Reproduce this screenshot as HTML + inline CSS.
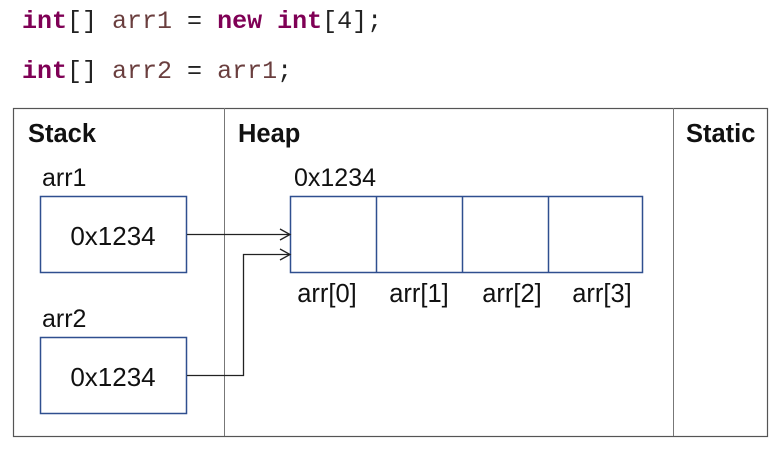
<!DOCTYPE html>
<html><head><style>
body{margin:0;width:782px;height:447px;background:#fff;overflow:hidden}
</style></head><body>
<svg width="782" height="447" xmlns="http://www.w3.org/2000/svg">
<g font-family="Liberation Mono, monospace" font-size="25">
<text x="22" y="28"><tspan fill="#7f0055" font-weight="bold">int</tspan><tspan fill="#222">[] </tspan><tspan fill="#6a3e3e">arr1</tspan><tspan fill="#222"> = </tspan><tspan fill="#7f0055" font-weight="bold">new</tspan><tspan fill="#222"> </tspan><tspan fill="#7f0055" font-weight="bold">int</tspan><tspan fill="#222">[4];</tspan></text>
<text x="22" y="78"><tspan fill="#7f0055" font-weight="bold">int</tspan><tspan fill="#222">[] </tspan><tspan fill="#6a3e3e">arr2</tspan><tspan fill="#222"> = </tspan><tspan fill="#6a3e3e">arr1</tspan><tspan fill="#222">;</tspan></text>
</g>
<rect x="13.5" y="108.5" width="754" height="328" fill="none" stroke="#555" stroke-width="1.2"/>
<line x1="224.5" y1="108" x2="224.5" y2="436" stroke="#777"/>
<line x1="673.5" y1="108" x2="673.5" y2="436" stroke="#777"/>
<g font-family="Liberation Sans, sans-serif" fill="#111">
<text x="28" y="142" font-size="25.5" font-weight="bold">Stack</text>
<text x="238" y="142" font-size="25.5" font-weight="bold">Heap</text>
<text x="686" y="142" font-size="25.5" font-weight="bold">Static</text>
<text x="42" y="186" font-size="25">arr1</text>
<text x="42" y="327" font-size="25">arr2</text>
<text x="294" y="186" font-size="25">0x1234</text>
<text x="113" y="245" font-size="26" text-anchor="middle">0x1234</text>
<text x="113" y="386" font-size="26" text-anchor="middle">0x1234</text>
<g font-size="25.5" text-anchor="middle">
<text x="327" y="302">arr[0]</text>
<text x="419" y="302">arr[1]</text>
<text x="512" y="302">arr[2]</text>
<text x="602" y="302">arr[3]</text>
</g>
</g>
<g fill="none" stroke="#2f4f8f" stroke-width="1.5">
<rect x="40.5" y="196.5" width="146" height="76"/>
<rect x="40.5" y="337.5" width="146" height="76"/>
<rect x="290.5" y="196.5" width="352" height="76"/>
<line x1="376.5" y1="196" x2="376.5" y2="273"/>
<line x1="462.5" y1="196" x2="462.5" y2="273"/>
<line x1="548.5" y1="196" x2="548.5" y2="273"/>
</g>
<g fill="none" stroke="#222" stroke-width="1.3">
<line x1="187" y1="234.5" x2="290" y2="234.5"/>
<polyline points="280,229 290,234.5 280,240"/>
<polyline points="187,375.5 243.5,375.5 243.5,254.5 290,254.5"/>
<polyline points="280,249 290,254.5 280,260"/>
</g>
</svg>
</body></html>
